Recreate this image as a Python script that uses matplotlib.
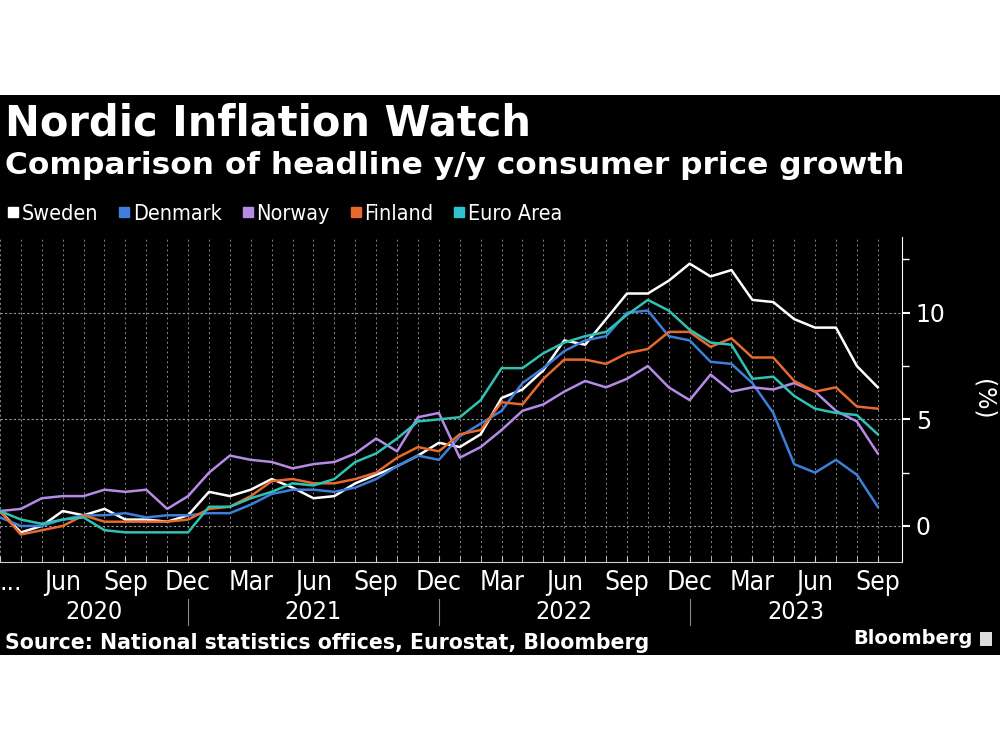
import matplotlib
matplotlib.use("Agg")
import matplotlib.pyplot as plt
from matplotlib.patches import Rectangle
from matplotlib.lines import Line2D
import numpy as np

# Données : inflation annuelle (%), mars 2020 -> sept. 2023
months = ['Mar', 'Apr', 'May', 'Jun', 'Jul', 'Aug', 'Sep', 'Oct', 'Nov', 'Dec',
          'Jan', 'Feb', 'Mar', 'Apr', 'May', 'Jun', 'Jul', 'Aug', 'Sep', 'Oct', 'Nov', 'Dec',
          'Jan', 'Feb', 'Mar', 'Apr', 'May', 'Jun', 'Jul', 'Aug', 'Sep', 'Oct', 'Nov', 'Dec',
          'Jan', 'Feb', 'Mar', 'Apr', 'May', 'Jun', 'Jul', 'Aug', 'Sep']
sweden = [0.7, -0.3, 0.0, 0.7, 0.5, 0.8, 0.3, 0.3, 0.2, 0.5,
          1.6, 1.4, 1.7, 2.2, 1.8, 1.3, 1.4, 2.0, 2.4, 2.8, 3.3, 3.9,
          3.7, 4.3, 6.0, 6.4, 7.3, 8.7, 8.5, 9.7, 10.9, 10.9, 11.5, 12.3,
          11.7, 12.0, 10.6, 10.5, 9.7, 9.3, 9.3, 7.5, 6.5]
denmark = [0.4, 0.0, 0.0, 0.3, 0.5, 0.5, 0.6, 0.4, 0.5, 0.5,
           0.6, 0.6, 1.0, 1.5, 1.7, 1.7, 1.6, 1.8, 2.2, 2.8, 3.3, 3.1,
           4.2, 4.8, 5.4, 6.7, 7.4, 8.2, 8.7, 8.9, 10.0, 10.1, 8.9, 8.7,
           7.7, 7.6, 6.7, 5.3, 2.9, 2.5, 3.1, 2.4, 0.9]
norway = [0.7, 0.8, 1.3, 1.4, 1.4, 1.7, 1.6, 1.7, 0.8, 1.4,
          2.5, 3.3, 3.1, 3.0, 2.7, 2.9, 3.0, 3.4, 4.1, 3.5, 5.1, 5.3,
          3.2, 3.7, 4.5, 5.4, 5.7, 6.3, 6.8, 6.5, 6.9, 7.5, 6.5, 5.9,
          7.1, 6.3, 6.5, 6.4, 6.7, 6.3, 5.4, 4.9, 3.4]
finland = [0.7, -0.4, -0.2, 0.0, 0.5, 0.2, 0.2, 0.2, 0.2, 0.3,
           0.8, 0.9, 1.4, 2.1, 2.2, 2.0, 2.0, 2.2, 2.5, 3.2, 3.7, 3.5,
           4.3, 4.5, 5.8, 5.7, 6.9, 7.8, 7.8, 7.6, 8.1, 8.3, 9.1, 9.1,
           8.4, 8.8, 7.9, 7.9, 6.8, 6.3, 6.5, 5.6, 5.5]
euro = [0.7, 0.3, 0.1, 0.3, 0.4, -0.2, -0.3, -0.3, -0.3, -0.3,
        0.9, 0.9, 1.3, 1.6, 2.0, 1.9, 2.2, 3.0, 3.4, 4.1, 4.9, 5.0,
        5.1, 5.9, 7.4, 7.4, 8.1, 8.6, 8.9, 9.1, 9.9, 10.6, 10.1, 9.2,
        8.6, 8.5, 6.9, 7.0, 6.1, 5.5, 5.3, 5.2, 4.3]

series = ['Sweden', 'Denmark', 'Norway', 'Finland', 'Euro Area']
values = [sweden, denmark, norway, finland, euro]
colors = ['#ffffff', '#3d7fdb', '#b58be6', '#e8692d', '#2fc2b3']
legend_colors = ['#ffffff', '#3d7fdb', '#b58be6', '#e8692d', '#2ec4cf']

years = ['2020', '2021', '2022', '2023']
year_breaks = [9, 21, 33]          # décembre de chaque année
year_centers = [4.5, 15, 27, 38.1]

fig = plt.figure(figsize=(10, 7.5), dpi=100)
fig.patch.set_facecolor('white')
fig.patches.append(Rectangle((0, 95 / 750), 1, 560 / 750, transform=fig.transFigure,
                             facecolor='black', edgecolor='none', zorder=-10))

ax = fig.add_axes([0, (750 - 562) / 750, 0.902, (562 - 237) / 750])
ax.set_facecolor('black')

x = np.arange(len(months))
for name, vals, c in zip(series, values, colors):
    ax.plot(x, vals, color=c, lw=1.8, label=name, zorder=3)

ax.set_xlim(0, 43.16)
ax.set_ylim(-1.69, 13.55)

# grille
for xi in x:
    ax.axvline(xi, color='#8a8a8a', lw=0.7, ls=(0, (2, 3)), zorder=1)
for yv in [0, 5, 10]:
    ax.axhline(yv, color='#9a9a9a', lw=0.8, ls=(0, (2, 2)), zorder=1)

for s in ['left', 'top']:
    ax.spines[s].set_visible(False)
ax.spines['right'].set_color('white')
ax.spines['bottom'].set_color('#cccccc')

ax.yaxis.tick_right()
ax.set_yticks([0, 5, 10])
ax.set_yticks([2.5, 7.5, 12.5], minor=True)
ax.tick_params(axis='y', which='major', colors='white', labelsize=17, length=6, width=1.5, pad=4)
ax.tick_params(axis='y', which='minor', colors='white', length=5, width=1)
ax.set_ylabel('(%)', color='white', fontsize=17, rotation=270, labelpad=36)
ax.yaxis.set_label_position('right')

tick_pos = list(range(0, 43, 3))
tick_lab = ['...'] + [months[i] for i in tick_pos[1:]]
ax.set_xticks(tick_pos)
ax.set_xticks(x, minor=True)
ax.set_xticklabels(tick_lab, fontsize=19, color='white', fontstretch='condensed')
ax.get_xticklabels()[0].set_ha('left')
ax.tick_params(axis='x', which='both', colors='#cccccc', length=4, direction='in', pad=6)
for lab in ax.get_xticklabels():
    lab.set_color('white')

for xb in year_breaks:
    ax.plot([xb, xb], [-0.115, -0.195], transform=ax.get_xaxis_transform(),
            color='#888888', lw=0.8, clip_on=False)
for yr, xc in zip(years, year_centers):
    ax.text(xc, -0.155, yr, transform=ax.get_xaxis_transform(), ha='center', va='center',
            color='white', fontsize=18, fontstretch='condensed')

# titres
fig.text(0.005, 0.835, 'Nordic Inflation Watch', color='white', fontsize=30,
         fontweight='bold', va='center', ha='left')
fig.text(0.005, 0.779, 'Comparison of headline y/y consumer price growth', color='white',
         fontsize=22.5, fontweight='bold', va='center', ha='left')

handles = [Line2D([], [], marker='s', ls='none', color=c, markersize=7) for c in legend_colors]
leg = fig.legend(handles, series, loc='center left', bbox_to_anchor=(0.007, 0.715), ncol=5,
                 frameon=False, handletextpad=0.1, columnspacing=0.9, handlelength=0.6,
                 borderpad=0, borderaxespad=0,
                 prop={'size': 15.5, 'stretch': 'condensed'})
for t in leg.get_texts():
    t.set_color('white')

fig.text(0.005, 0.143, 'Source: National statistics offices, Eurostat, Bloomberg', color='white',
         fontsize=14.8, fontweight='bold', va='center', ha='left')
fig.text(0.973, 0.148, 'Bloomberg', color='white', fontsize=14, fontweight='bold',
         va='center', ha='right')
fig.patches.append(Rectangle((0.980, 0.139), 0.012, 0.019, transform=fig.transFigure,
                             facecolor='#dddddd', edgecolor='none'))

fig.savefig('out.png', dpi=100, facecolor=fig.get_facecolor())
